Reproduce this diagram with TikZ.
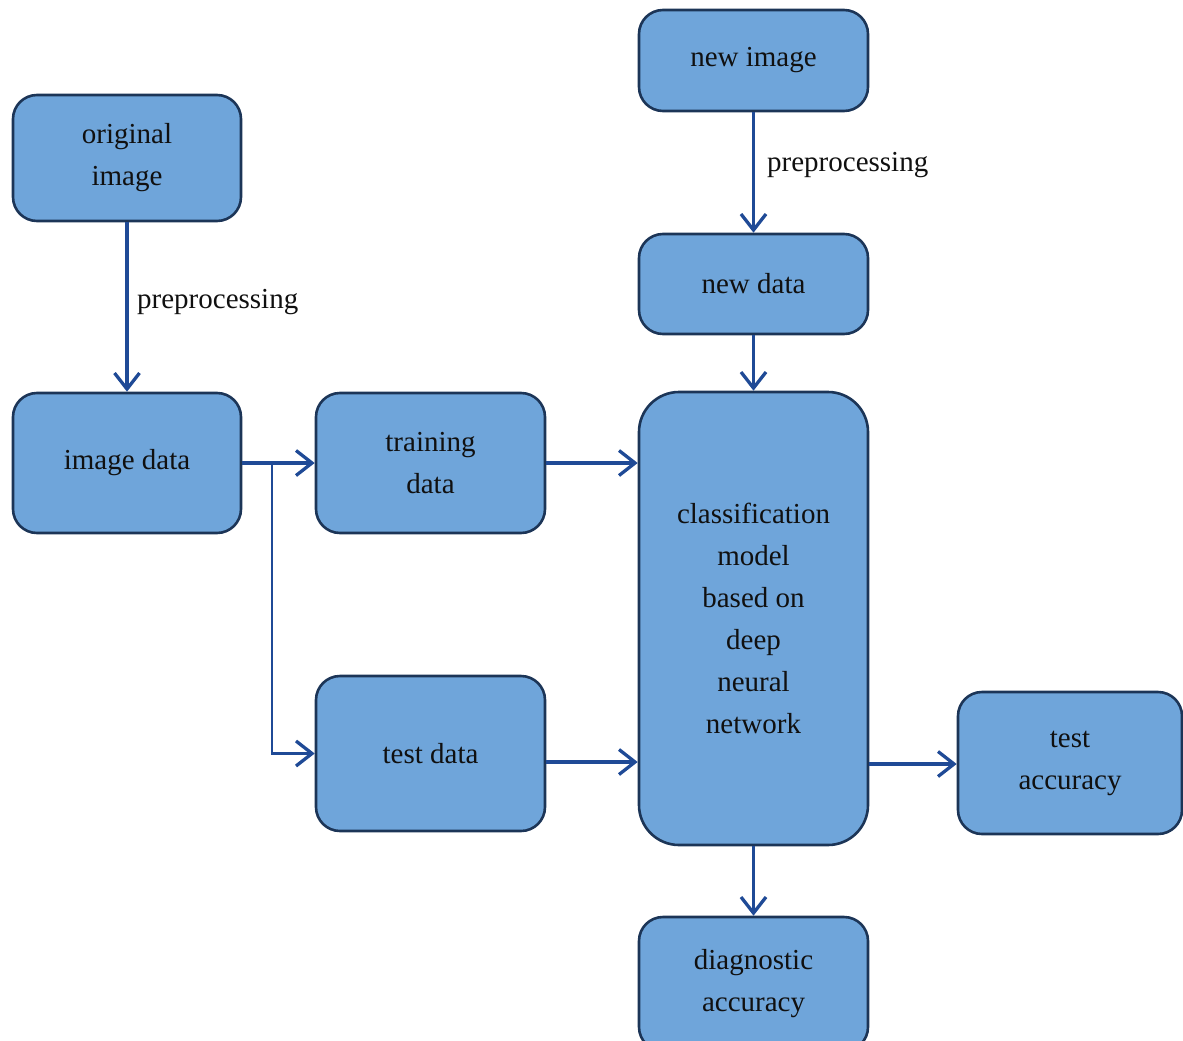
\documentclass[tikz,border=0pt]{standalone}
\usepackage{fontspec}
\setmainfont{Liberation Serif}
\usetikzlibrary{arrows.meta}
\definecolor{boxfill}{HTML}{6FA5DA}
\definecolor{boxline}{HTML}{1C3557}
\definecolor{arrowc}{HTML}{1F4A96}
\definecolor{txt}{HTML}{101010}
\tikzset{
  box/.style={draw=boxline, line width=2.6pt, fill=boxfill, rounded corners=24pt,
    align=center, text=txt, inner sep=0pt,
    font=\fontsize{29}{42}\selectfont},
  conn/.style={draw=arrowc, line width=3.3pt,
    -{Straight Barb[length=16pt,width=25pt,line width=3.3pt]}},
  lbl/.style={text=txt, font=\fontsize{29}{36}\selectfont, inner sep=0pt, anchor=west}
}
\begin{document}
\begin{tikzpicture}[x=1pt,y=-1pt]
\useasboundingbox (0,0) rectangle (1183,1041);
\clip (0,0) rectangle (1183,1041);
\node[box, minimum width=228pt, minimum height=126pt] (orig) at (127,158) {original\\image};
\node[box, minimum width=228pt, minimum height=140pt] (imgdata) at (127,463) {image data};
\node[box, minimum width=229pt, minimum height=140pt] (train) at (430.5,463) {training\\data};
\node[box, minimum width=229pt, minimum height=155pt] (test) at (430.5,753.5) {test data};
\node[box, minimum width=229pt, minimum height=453pt, rounded corners=40pt] (cls) at (753.5,618.5)
  {classification\\model\\based on\\deep\\neural\\network};
\node[box, minimum width=229pt, minimum height=101pt] (newimg) at (753.5,60.5) {new image};
\node[box, minimum width=229pt, minimum height=100pt] (newdata) at (753.5,284) {new data};
\node[box, minimum width=224pt, minimum height=142pt] (testacc) at (1070,763) {test\\accuracy};
\node[box, minimum width=229pt, minimum height=134pt] (diag) at (753.5,984) {diagnostic\\accuracy};
\coordinate (br) at (272,463);
\draw[conn] (orig.south) -- (imgdata.north);
\node[lbl] (pp1) at (137,302) {preprocessing};
\draw[conn] (imgdata.east) -- (train.west);
\draw[conn, line width=2.4pt] (br) |- (test.west);
\draw[conn] (train.east) -- (cls.west |- train.east);
\draw[conn] (test.east |- 0,762) -- (cls.west |- 0,762);
\draw[conn] (newimg.south) -- (newdata.north);
\node[lbl] (pp2) at (767,165) {preprocessing};
\draw[conn] (newdata.south) -- (cls.north);
\draw[conn] (cls.east |- 0,764) -- (testacc.west |- 0,764);
\draw[conn] (cls.south) -- (diag.north);
\end{tikzpicture}
\end{document}
